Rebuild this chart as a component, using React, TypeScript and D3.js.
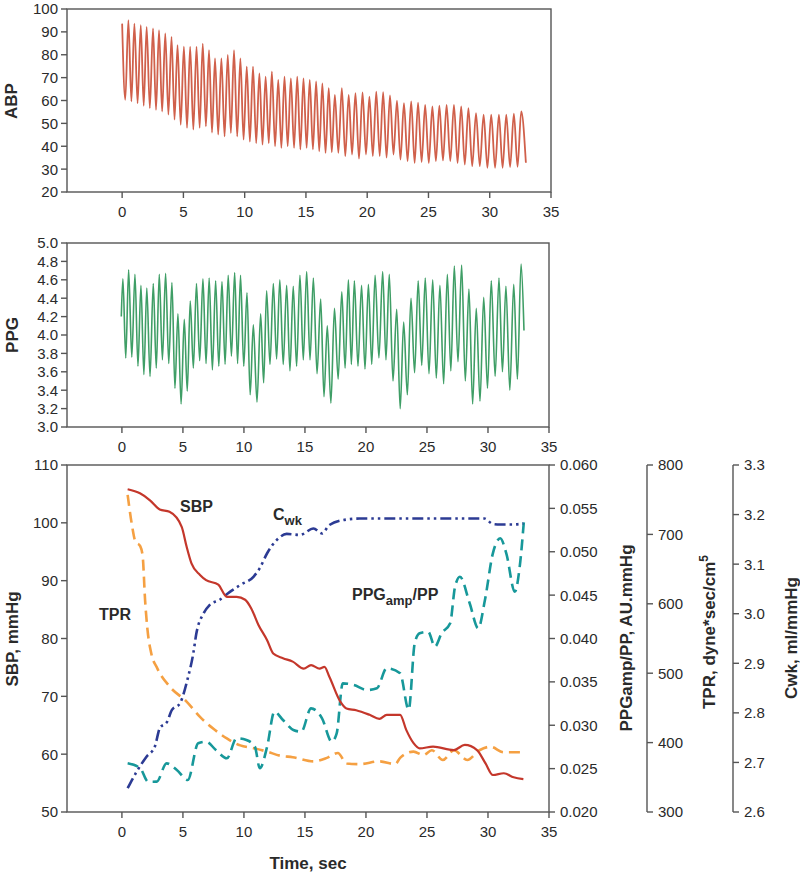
import React from 'react';
import * as d3 from 'd3';

// ---------- ABP (top panel): beat-by-beat systolic peaks and diastolic troughs ----------
const abpPeakTimes = [0.0, 0.51, 1.0, 1.52, 2.0, 2.52, 3.01, 3.52, 4.03, 4.52, 5.04, 5.55, 6.07, 6.58, 7.09, 7.58, 8.1, 8.62, 9.13, 9.65, 10.17, 10.68, 11.2, 11.71, 12.22, 12.74, 13.25, 13.77, 14.29, 14.8, 15.31, 15.83, 16.34, 16.86, 17.36, 17.93, 18.49, 19.04, 19.62, 20.18, 20.74, 21.3, 21.86, 22.43, 23.0, 23.59, 24.15, 24.73, 25.32, 25.89, 26.48, 27.08, 27.67, 28.26, 28.88, 29.5, 30.12, 30.75, 31.35, 31.97, 32.57];
const abpSystolic = [93.6, 95.1, 93.6, 92.9, 92.2, 91.5, 90.7, 89.3, 87.8, 84.2, 83.5, 83.5, 83.5, 84.9, 82.0, 78.4, 78.4, 79.9, 82.0, 78.4, 74.8, 74.8, 71.9, 70.4, 72.6, 69.0, 70.4, 69.7, 70.4, 69.7, 69.0, 68.3, 67.5, 65.4, 62.5, 65.4, 62.5, 63.2, 63.5, 61.7, 63.9, 63.6, 62.2, 59.9, 58.8, 59.6, 59.1, 58.1, 57.4, 57.7, 58.1, 58.1, 57.4, 56.7, 54.5, 53.8, 53.8, 53.8, 53.8, 54.2, 55.2];
const abpDiastolic = [60.3, 59.6, 58.8, 57.7, 56.7, 55.9, 55.2, 53.8, 51.6, 49.4, 48.0, 47.3, 48.0, 48.7, 46.0, 45.1, 44.3, 45.8, 44.3, 42.9, 42.0, 41.4, 40.7, 41.4, 40.0, 39.3, 40.0, 39.3, 38.6, 39.3, 38.6, 37.8, 37.1, 37.4, 37.1, 35.7, 36.4, 34.6, 36.4, 35.7, 35.7, 35.0, 36.4, 34.2, 33.5, 32.7, 33.1, 32.7, 33.5, 33.8, 33.5, 32.7, 32.0, 31.3, 31.3, 30.6, 30.6, 30.6, 30.9, 31.0, 32.8];
const abpEndTime = 32.95;

// ---------- PPG (middle panel) ----------
const ppgStart = [-0.05, 4.2];
const ppgPeakTimes = [0.08, 0.55, 1.07, 1.56, 2.04, 2.57, 3.06, 3.58, 4.1, 4.59, 5.11, 5.6, 6.11, 6.64, 7.15, 7.68, 8.2, 8.71, 9.24, 9.72, 10.25, 10.77, 11.37, 11.86, 12.41, 12.94, 13.5, 14.04, 14.59, 15.14, 15.69, 16.29, 16.83, 17.42, 18.02, 18.56, 19.05, 19.64, 20.2, 20.75, 21.37, 21.91, 22.52, 23.09, 23.69, 24.28, 24.86, 25.47, 26.06, 26.67, 27.24, 27.84, 28.44, 29.04, 29.65, 30.27, 30.9, 31.47, 32.11, 32.71];
const ppgPeaks = [4.61, 4.71, 4.66, 4.54, 4.51, 4.56, 4.66, 4.67, 4.57, 4.23, 4.17, 4.37, 4.56, 4.61, 4.62, 4.59, 4.58, 4.65, 4.68, 4.65, 4.46, 4.11, 4.23, 4.48, 4.56, 4.6, 4.54, 4.53, 4.65, 4.69, 4.62, 4.39, 4.1, 4.29, 4.47, 4.6, 4.59, 4.54, 4.55, 4.65, 4.69, 4.66, 4.28, 4.14, 4.4, 4.59, 4.62, 4.6, 4.54, 4.66, 4.75, 4.76, 4.5, 4.29, 4.41, 4.59, 4.62, 4.53, 4.55, 4.77];
const ppgTroughs = [3.75, 3.76, 3.66, 3.57, 3.55, 3.64, 3.73, 3.69, 3.42, 3.25, 3.39, 3.64, 3.72, 3.69, 3.62, 3.66, 3.68, 3.77, 3.69, 3.66, 3.35, 3.27, 3.48, 3.68, 3.74, 3.68, 3.61, 3.66, 3.73, 3.73, 3.58, 3.33, 3.26, 3.52, 3.64, 3.68, 3.66, 3.63, 3.68, 3.75, 3.73, 3.5, 3.2, 3.35, 3.59, 3.67, 3.58, 3.53, 3.47, 3.61, 3.71, 3.5, 3.25, 3.28, 3.42, 3.55, 3.6, 3.4, 3.52, 4.05];
const ppgEndTime = 32.95;

// ---------- Bottom panel series ----------
const sbpTime = [0.47, 1.48, 2.3, 3.1, 3.9, 4.9, 5.3, 5.7, 6.4, 6.9, 7.9, 8.6, 9.4, 10.1, 10.6, 11.2, 11.9, 12.4, 13.2, 14.0, 14.9, 15.5, 16.2, 16.6, 17.0, 17.9, 18.4, 19.2, 20.3, 21.1, 21.7, 22.8, 23.3, 23.9, 24.4, 25.5, 27.2, 28.1, 29.1, 29.8, 30.4, 31.3, 32.1, 32.9];
const sbpValues = [105.8, 105.1, 103.9, 102.3, 101.9, 99.3, 95.9, 93.0, 91.0, 90.1, 89.3, 87.2, 87.2, 86.7, 85.2, 82.3, 79.7, 77.4, 76.6, 76.0, 74.8, 75.4, 74.8, 75.1, 73.4, 69.1, 67.9, 67.6, 66.8, 66.1, 66.8, 66.8, 64.2, 61.9, 61.0, 61.3, 60.7, 61.6, 60.7, 58.4, 56.4, 56.7, 56.0, 55.7];

const tprTime = [0.47, 0.8, 1.1, 1.5, 1.7, 1.9, 2.1, 2.4, 2.9, 3.9, 5.3, 6.4, 7.5, 8.6, 9.7, 10.8, 11.9, 13.0, 14.0, 15.7, 16.8, 17.7, 18.4, 19.5, 21.1, 22.4, 22.8, 23.9, 24.7, 25.4, 26.3, 27.2, 28.3, 29.3, 30.2, 31.3, 32.9];
const tprValues = [757, 716, 690, 683, 669, 605, 562, 529, 507, 481, 459, 437, 420, 406, 396, 392, 387, 381, 379, 373, 378, 385, 370, 369, 373, 369, 378, 387, 382, 389, 375, 389, 375, 389, 394, 386, 386];

const cwkTime = [0.47, 1.2, 2.0, 2.7, 3.1, 3.7, 4.1, 4.75, 5.4, 5.85, 6.1, 6.7, 7.2, 8.0, 8.85, 9.7, 10.8, 11.3, 11.9, 12.7, 13.5, 14.6, 15.7, 16.4, 17.0, 18.4, 19.5, 22.8, 26.0, 29.7, 30.4, 31.0, 32.0, 32.9];
const cwkValues = [2.648, 2.681, 2.711, 2.732, 2.769, 2.782, 2.806, 2.819, 2.87, 2.92, 2.96, 3.001, 3.018, 3.028, 3.044, 3.058, 3.075, 3.092, 3.122, 3.149, 3.161, 3.159, 3.172, 3.162, 3.179, 3.19, 3.192, 3.192, 3.192, 3.192, 3.181, 3.18, 3.18, 3.182];

const ratioTime = [0.47, 1.5, 2.15, 2.85, 3.66, 4.5, 5.4, 6.25, 6.9, 7.7, 8.6, 9.4, 10.2, 10.9, 11.3, 11.9, 12.5, 13.2, 14.05, 14.7, 15.5, 16.4, 17.2, 17.6, 18.1, 19.0, 20.1, 20.9, 21.7, 22.8, 23.5, 24.0, 24.4, 25.1, 25.65, 26.2, 26.9, 27.3, 27.7, 28.5, 29.2, 29.75, 30.4, 31.0, 31.5, 32.2, 32.6, 32.95];
const ratioValues = [0.02561, 0.02504, 0.02349, 0.0235, 0.02561, 0.02484, 0.02369, 0.02792, 0.0281, 0.02715, 0.02619, 0.0285, 0.0283, 0.02753, 0.02504, 0.02753, 0.03156, 0.0306, 0.02945, 0.02926, 0.03195, 0.0308, 0.0281, 0.02906, 0.03483, 0.03464, 0.03406, 0.03426, 0.03657, 0.03599, 0.0318, 0.0395, 0.0406, 0.04078, 0.03906, 0.0406, 0.04175, 0.04597, 0.04712, 0.04406, 0.04118, 0.04444, 0.04982, 0.05155, 0.04982, 0.0454, 0.04828, 0.05366];

// ---------- Ticks ----------
const timeTicks = [0, 5, 10, 15, 20, 25, 30, 35];
const abpTicks = [20, 30, 40, 50, 60, 70, 80, 90, 100];
const ppgTicks = [3.0, 3.2, 3.4, 3.6, 3.8, 4.0, 4.2, 4.4, 4.6, 4.8, 5.0];
const sbpTicks = [50, 60, 70, 80, 90, 100, 110];
const ratioTicks = [0.02, 0.025, 0.03, 0.035, 0.04, 0.045, 0.05, 0.055, 0.06];
const tprTicks = [300, 400, 500, 600, 700, 800];
const cwkTicks = [2.6, 2.7, 2.8, 2.9, 3.0, 3.1, 3.2, 3.3];

const FONT = "'Liberation Sans', Arial, Helvetica, sans-serif";
const AXIS = '#555';
const TXT = '#2a2a2a';
const TICK_FS = 15;
const TITLE_FS = 17;

function beatPoints(peakT: number[], peaks: number[], troughs: number[], endT: number): [number, number][] {
  const pts: [number, number][] = [];
  peakT.forEach((t, i) => {
    pts.push([t, peaks[i]]);
    const tn = i < peakT.length - 1 ? (t + peakT[i + 1]) / 2 : endT;
    pts.push([tn, troughs[i]]);
  });
  return pts;
}

function zip(a: number[], b: number[]): [number, number][] {
  return a.map((t, i) => [t, b[i]] as [number, number]);
}

type Lin = d3.ScaleLinear<number, number>;

function XAxis({ x, y0 }: { x: Lin; y0: number }) {
  return (
    <g>
      {timeTicks.map((t) => (
        <g key={t}>
          <line x1={x(t)} x2={x(t)} y1={y0} y2={y0 + 6} stroke={AXIS} strokeWidth={1.4} />
          <text x={x(t)} y={y0 + 25} textAnchor="middle" fontSize={TICK_FS} fill={TXT}>{t}</text>
        </g>
      ))}
    </g>
  );
}

function LeftAxis({ y, x0, ticks, fmt }: { y: Lin; x0: number; ticks: number[]; fmt: (v: number) => string }) {
  return (
    <g>
      {ticks.map((v) => (
        <g key={v}>
          <line x1={x0 - 6} x2={x0} y1={y(v)} y2={y(v)} stroke={AXIS} strokeWidth={1.4} />
          <text x={x0 - 9} y={y(v)} dy="0.36em" textAnchor="end" fontSize={TICK_FS} fill={TXT}>{fmt(v)}</text>
        </g>
      ))}
    </g>
  );
}

function RightAxis({ y, x0, ticks, fmt, line }: { y: Lin; x0: number; ticks: number[]; fmt: (v: number) => string; line: boolean }) {
  const [r0, r1] = y.range();
  return (
    <g>
      {line && <line x1={x0} x2={x0} y1={r0} y2={r1} stroke={AXIS} strokeWidth={1.4} />}
      {ticks.map((v) => (
        <g key={v}>
          <line x1={x0} x2={x0 + 6} y1={y(v)} y2={y(v)} stroke={AXIS} strokeWidth={1.4} />
          <text x={x0 + 11} y={y(v)} dy="0.36em" textAnchor="start" fontSize={TICK_FS} fill={TXT}>{fmt(v)}</text>
        </g>
      ))}
    </g>
  );
}

export default function App() {
  const xTop = d3.scaleLinear().domain([-4.5, 35]).range([67, 551]);
  const yAbp = d3.scaleLinear().domain([20, 100]).range([192, 9]);
  const xMid = d3.scaleLinear().domain([-4.5, 35]).range([67, 549]);
  const yPpg = d3.scaleLinear().domain([3, 5]).range([427, 243]);
  const xBot = d3.scaleLinear().domain([-4.5, 35]).range([67, 549]);
  const ySbp = d3.scaleLinear().domain([50, 110]).range([812, 465]);
  const yRatio = d3.scaleLinear().domain([0.02, 0.06]).range([812, 465]);
  const yTpr = d3.scaleLinear().domain([300, 800]).range([812, 465]);
  const yCwk = d3.scaleLinear().domain([2.6, 3.3]).range([812, 465]);

  const mk = (x: Lin, y: Lin) =>
    d3.line<[number, number]>().x((d) => x(d[0])).y((d) => y(d[1])).curve(d3.curveMonotoneX);

  const abpPath = mk(xTop, yAbp)(beatPoints(abpPeakTimes, abpSystolic, abpDiastolic, abpEndTime)) || '';
  const ppgPts = [[ppgStart[0], ppgStart[1]] as [number, number], ...beatPoints(ppgPeakTimes, ppgPeaks, ppgTroughs, ppgEndTime)];
  const ppgPath = mk(xMid, yPpg)(ppgPts) || '';
  const sbpPath = mk(xBot, ySbp)(zip(sbpTime, sbpValues)) || '';
  const tprPath = mk(xBot, yTpr)(zip(tprTime, tprValues)) || '';
  const cwkPath = mk(xBot, yCwk)(zip(cwkTime, cwkValues)) || '';
  const ratioPath = mk(xBot, yRatio)(zip(ratioTime, ratioValues)) || '';

  const f0 = (v: number) => String(v);
  const f1 = d3.format('.1f');
  const f3 = d3.format('.3f');

  const frame = (x: Lin, y: Lin) => {
    const [xa, xb] = x.range();
    const [ya, yb] = y.range();
    return <rect x={xa} y={yb} width={xb - xa} height={ya - yb} fill="none" stroke={AXIS} strokeWidth={1.4} />;
  };

  return (
    <svg width={800} height={874} style={{ position: 'absolute', left: 0, top: 0, background: '#fff' }} fontFamily={FONT}>
      <rect x={0} y={0} width={800} height={874} fill="#fff" />

      {/* ---------- Top: ABP ---------- */}
      <path d={abpPath} fill="none" stroke="#d0604b" strokeWidth={1.8} strokeLinejoin="round" />
      {frame(xTop, yAbp)}
      <LeftAxis y={yAbp} x0={67} ticks={abpTicks} fmt={f0} />
      <XAxis x={xTop} y0={192} />
      <text transform="translate(17,101) rotate(-90)" textAnchor="middle" fontSize={TITLE_FS} fontWeight="bold" fill={TXT}>ABP</text>

      {/* ---------- Middle: PPG ---------- */}
      <path d={ppgPath} fill="none" stroke="#3f9e66" strokeWidth={1.6} strokeLinejoin="round" />
      {frame(xMid, yPpg)}
      <LeftAxis y={yPpg} x0={67} ticks={ppgTicks} fmt={f1} />
      <XAxis x={xMid} y0={427} />
      <text transform="translate(18,335) rotate(-90)" textAnchor="middle" fontSize={TITLE_FS} fontWeight="bold" fill={TXT}>PPG</text>

      {/* ---------- Bottom: hemodynamics ---------- */}
      <path d={tprPath} fill="none" stroke="#f5a042" strokeWidth={2.6} strokeDasharray="11 6" />
      <path d={ratioPath} fill="none" stroke="#17989a" strokeWidth={2.6} strokeDasharray="11 6" />
      <path d={cwkPath} fill="none" stroke="#2c3b94" strokeWidth={2.6} strokeDasharray="11 4 2.5 4 2.5 4" />
      <path d={sbpPath} fill="none" stroke="#c4372b" strokeWidth={2.2} strokeLinejoin="round" />
      {frame(xBot, ySbp)}
      <LeftAxis y={ySbp} x0={67} ticks={sbpTicks} fmt={f0} />
      <XAxis x={xBot} y0={812} />
      <RightAxis y={yRatio} x0={549} ticks={ratioTicks} fmt={f3} line={false} />
      <RightAxis y={yTpr} x0={647} ticks={tprTicks} fmt={f0} line={true} />
      <RightAxis y={yCwk} x0={733} ticks={cwkTicks} fmt={f1} line={true} />

      <text x={308} y={869} textAnchor="middle" fontSize={TITLE_FS} fontWeight="bold" fill={TXT}>Time, sec</text>
      <text transform="translate(18,639) rotate(-90)" textAnchor="middle" fontSize={TITLE_FS} fontWeight="bold" fill={TXT}>SBP, mmHg</text>
      <text transform="translate(632,638) rotate(-90)" textAnchor="middle" fontSize={TITLE_FS} fontWeight="bold" fill={TXT}>PPGamp/PP, AU.mmHg</text>
      <text transform="translate(715,632) rotate(-90)" textAnchor="middle" fontSize={TITLE_FS} fontWeight="bold" fill={TXT}>
        TPR, dyne*sec/cm<tspan dy={-7} fontSize={12}>5</tspan>
      </text>
      <text transform="translate(797,638) rotate(-90)" textAnchor="middle" fontSize={TITLE_FS} fontWeight="bold" fill={TXT}>Cwk, ml/mmHg</text>

      {/* in-plot labels */}
      <text x={180} y={512} fontSize={16} fontWeight="bold" fill={TXT}>SBP</text>
      <text x={273} y={520} fontSize={16} fontWeight="bold" fill={TXT}>
        C<tspan dy={5} fontSize={13}>wk</tspan>
      </text>
      <text x={99} y={620} fontSize={16} fontWeight="bold" fill={TXT}>TPR</text>
      <text x={352} y={600} fontSize={16} fontWeight="bold" fill={TXT}>
        PPG<tspan dy={5} fontSize={13}>amp</tspan><tspan dy={-5}>/PP</tspan>
      </text>
    </svg>
  );
}
